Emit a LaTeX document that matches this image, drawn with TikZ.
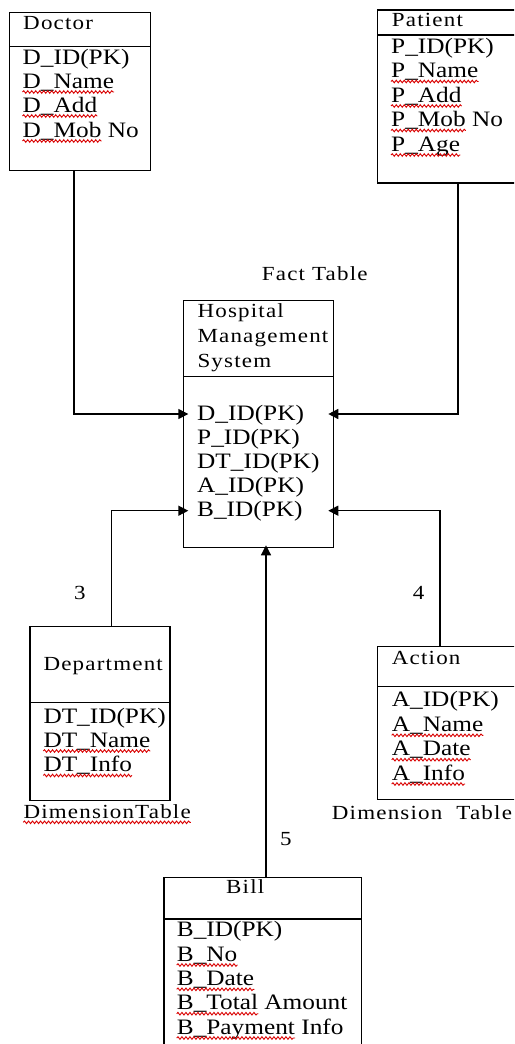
\documentclass[tikz,border=0pt]{standalone}
\usepackage{fontspec}
\setmainfont{Liberation Serif}
\newfontfamily\titlefont[FakeStretch=1.15,LetterSpace=6]{Liberation Serif}
\newfontfamily\fieldfont[FakeStretch=1.15]{Liberation Serif}
\usetikzlibrary{arrows.meta,decorations.pathmorphing}
\begin{document}
\begin{tikzpicture}[x=1pt,y=-1pt,
  box/.style={draw,line width=1.4pt,inner sep=0pt,outer sep=0pt,anchor=north west},
  sep/.style={line width=1.4pt},
  title/.style={anchor=base west,inner sep=0pt,font=\titlefont\fontsize{20}{24}\selectfont},
  field/.style={anchor=base west,inner sep=0pt,font=\fieldfont\fontsize{22}{24}\selectfont},
  conn/.style={line width=1.4pt,arrows={-Triangle[length=10pt,width=10pt]},shorten >=-5pt},
  wave/.style={red!85!black,line width=0.9pt,decorate,decoration={snake,amplitude=1.3pt,segment length=4pt}}]
\useasboundingbox (0,0) rectangle (514,1044);
\clip (0,0) rectangle (514,1044);

% ---------- Doctor ----------
\node[box,minimum width=141.4pt,minimum height=158pt] (doctor) at (9.3,12.7) {};
\coordinate (dsep) at (0,46.7);
\draw[sep] (doctor.west |- dsep) -- (doctor.east |- dsep);
\node[title] (doctorT) at (23,29) {Doctor};
\node[field] (did) at (22.5,64) {D\_ID(PK)};
\node[field] (dname) at (22.5,88) {D\_Name};
\node[field] (dadd) at (22.5,112) {D\_Add};
\node[field] (dmob) at (22.5,137) {D\_Mob};
\node[field,xshift=6pt] (dno) at (dmob.base east) {No};

% ---------- Patient ----------
\node[box,minimum width=140pt,minimum height=173pt] (patient) at (377.3,10) {};
\coordinate (psep) at (0,35);
\draw[sep] (patient.west |- psep) -- (patient.east |- psep);
\node[title] (patientT) at (391.7,27) {Patient};
\node[field] (pid) at (391,53) {P\_ID(PK)};
\node[field] (pname) at (391,77.5) {P\_Name};
\node[field] (padd) at (391,102) {P\_Add};
\node[field] (pmob) at (391,126.5) {P\_Mob};
\node[field,xshift=6pt] (pno) at (pmob.base east) {No};
\node[field] (page) at (391,151) {P\_Age};

% ---------- Fact table ----------
\node[title] (factT) at (261.7,280) {Fact Table};
\node[box,minimum width=150pt,minimum height=246.6pt] (hms) at (183.3,300.7) {};
\coordinate (hsep) at (0,376.7);
\draw[sep] (hms.west |- hsep) -- (hms.east |- hsep);
\node[title] (h1) at (197.3,317) {Hospital};
\node[title] (h2) at (197.3,342) {Management};
\node[title] (h3) at (197.3,367) {System};
\node[field] (kd) at (197,420.5) {D\_ID(PK)};
\node[field] (kp) at (197,444.5) {P\_ID(PK)};
\node[field] (kdt) at (197,468.5) {DT\_ID(PK)};
\node[field] (ka) at (197,492.5) {A\_ID(PK)};
\node[field] (kb) at (197,516.5) {B\_ID(PK)};

% ---------- Department ----------
\node[title] (n3) at (74,599.3) {3};
\node[box,minimum width=140pt,minimum height=174pt] (dept) at (30,626.7) {};
\coordinate (dtsep) at (0,702.7);
\draw[sep] (dept.west |- dtsep) -- (dept.east |- dtsep);
\node[title] (deptT) at (43.3,670) {Department};
\node[field] (dtid) at (43.3,723.3) {DT\_ID(PK)};
\node[field] (dtname) at (43.3,747) {DT\_Name};
\node[field] (dtinfo) at (43.3,771.5) {DT\_Info};
\node[title] (dimL) at (23.3,818.3) {DimensionTable};

% ---------- Action ----------
\node[title] (n4) at (412.7,599.3) {4};
\node[box,minimum width=140pt,minimum height=152.6pt] (action) at (377.3,646.7) {};
\coordinate (asep) at (0,686.7);
\draw[sep] (action.west |- asep) -- (action.east |- asep);
\node[title] (actionT) at (391.7,664) {Action};
\node[field] (aid) at (391.7,706.7) {A\_ID(PK)};
\node[field] (aname) at (391.7,731.3) {A\_Name};
\node[field] (adate) at (391.7,755.7) {A\_Date};
\node[field] (ainfo) at (391.7,780) {A\_Info};
\node[title] (dimR) at (331.7,819.3) {Dimension\hspace{14pt}Table};

% ---------- Bill ----------
\node[title] (n5) at (280,845) {5};
\node[box,minimum width=197.7pt,minimum height=180pt] (bill) at (164,877.3) {};
\coordinate (bsep) at (0,919);
\draw[sep] (bill.west |- bsep) -- (bill.east |- bsep);
\node[title] (billT) at (226,893.3) {Bill};
\node[field] (bid) at (176.7,936.7) {B\_ID(PK)};
\node[field] (bno) at (176.7,961) {B\_No};
\node[field] (bdate) at (176.7,985.3) {B\_Date};
\node[field] (btotal) at (176.7,1009.7) {B\_Total};
\node[field,xshift=6pt] (bamount) at (btotal.base east) {Amount};
\node[field] (bpay) at (176.7,1034) {B\_Payment};
\node[field,xshift=6pt] (binfo) at (bpay.base east) {Info};

% ---------- spelling marks ----------
\foreach \n in {dname,dadd,dmob,pname,padd,pmob,page,dtname,dtinfo,dimL,aname,adate,ainfo,bno,bdate,btotal,bpay}
  \draw[wave] ([yshift=-4pt]\n.base west) -- ([yshift=-4pt]\n.base east);

% ---------- connectors ----------
\coordinate (xd) at (74,0);
\coordinate (xp) at (458,0);
\coordinate (xdt) at (111.7,0);
\coordinate (xa) at (440,0);
\coordinate (xb) at (266,0);
\coordinate (yTop) at (0,414);
\coordinate (yBot) at (0,510.7);
\draw[conn] (doctor.south -| xd) |- (hms.west |- yTop);
\draw[conn] (patient.south -| xp) |- (hms.east |- yTop);
\draw[conn] (dept.north -| xdt) |- (hms.west |- yBot);
\draw[conn] (action.north -| xa) |- (hms.east |- yBot);
\draw[conn,shorten >=-2pt] (bill.north -| xb) -- (hms.south -| xb);
\end{tikzpicture}
\end{document}
